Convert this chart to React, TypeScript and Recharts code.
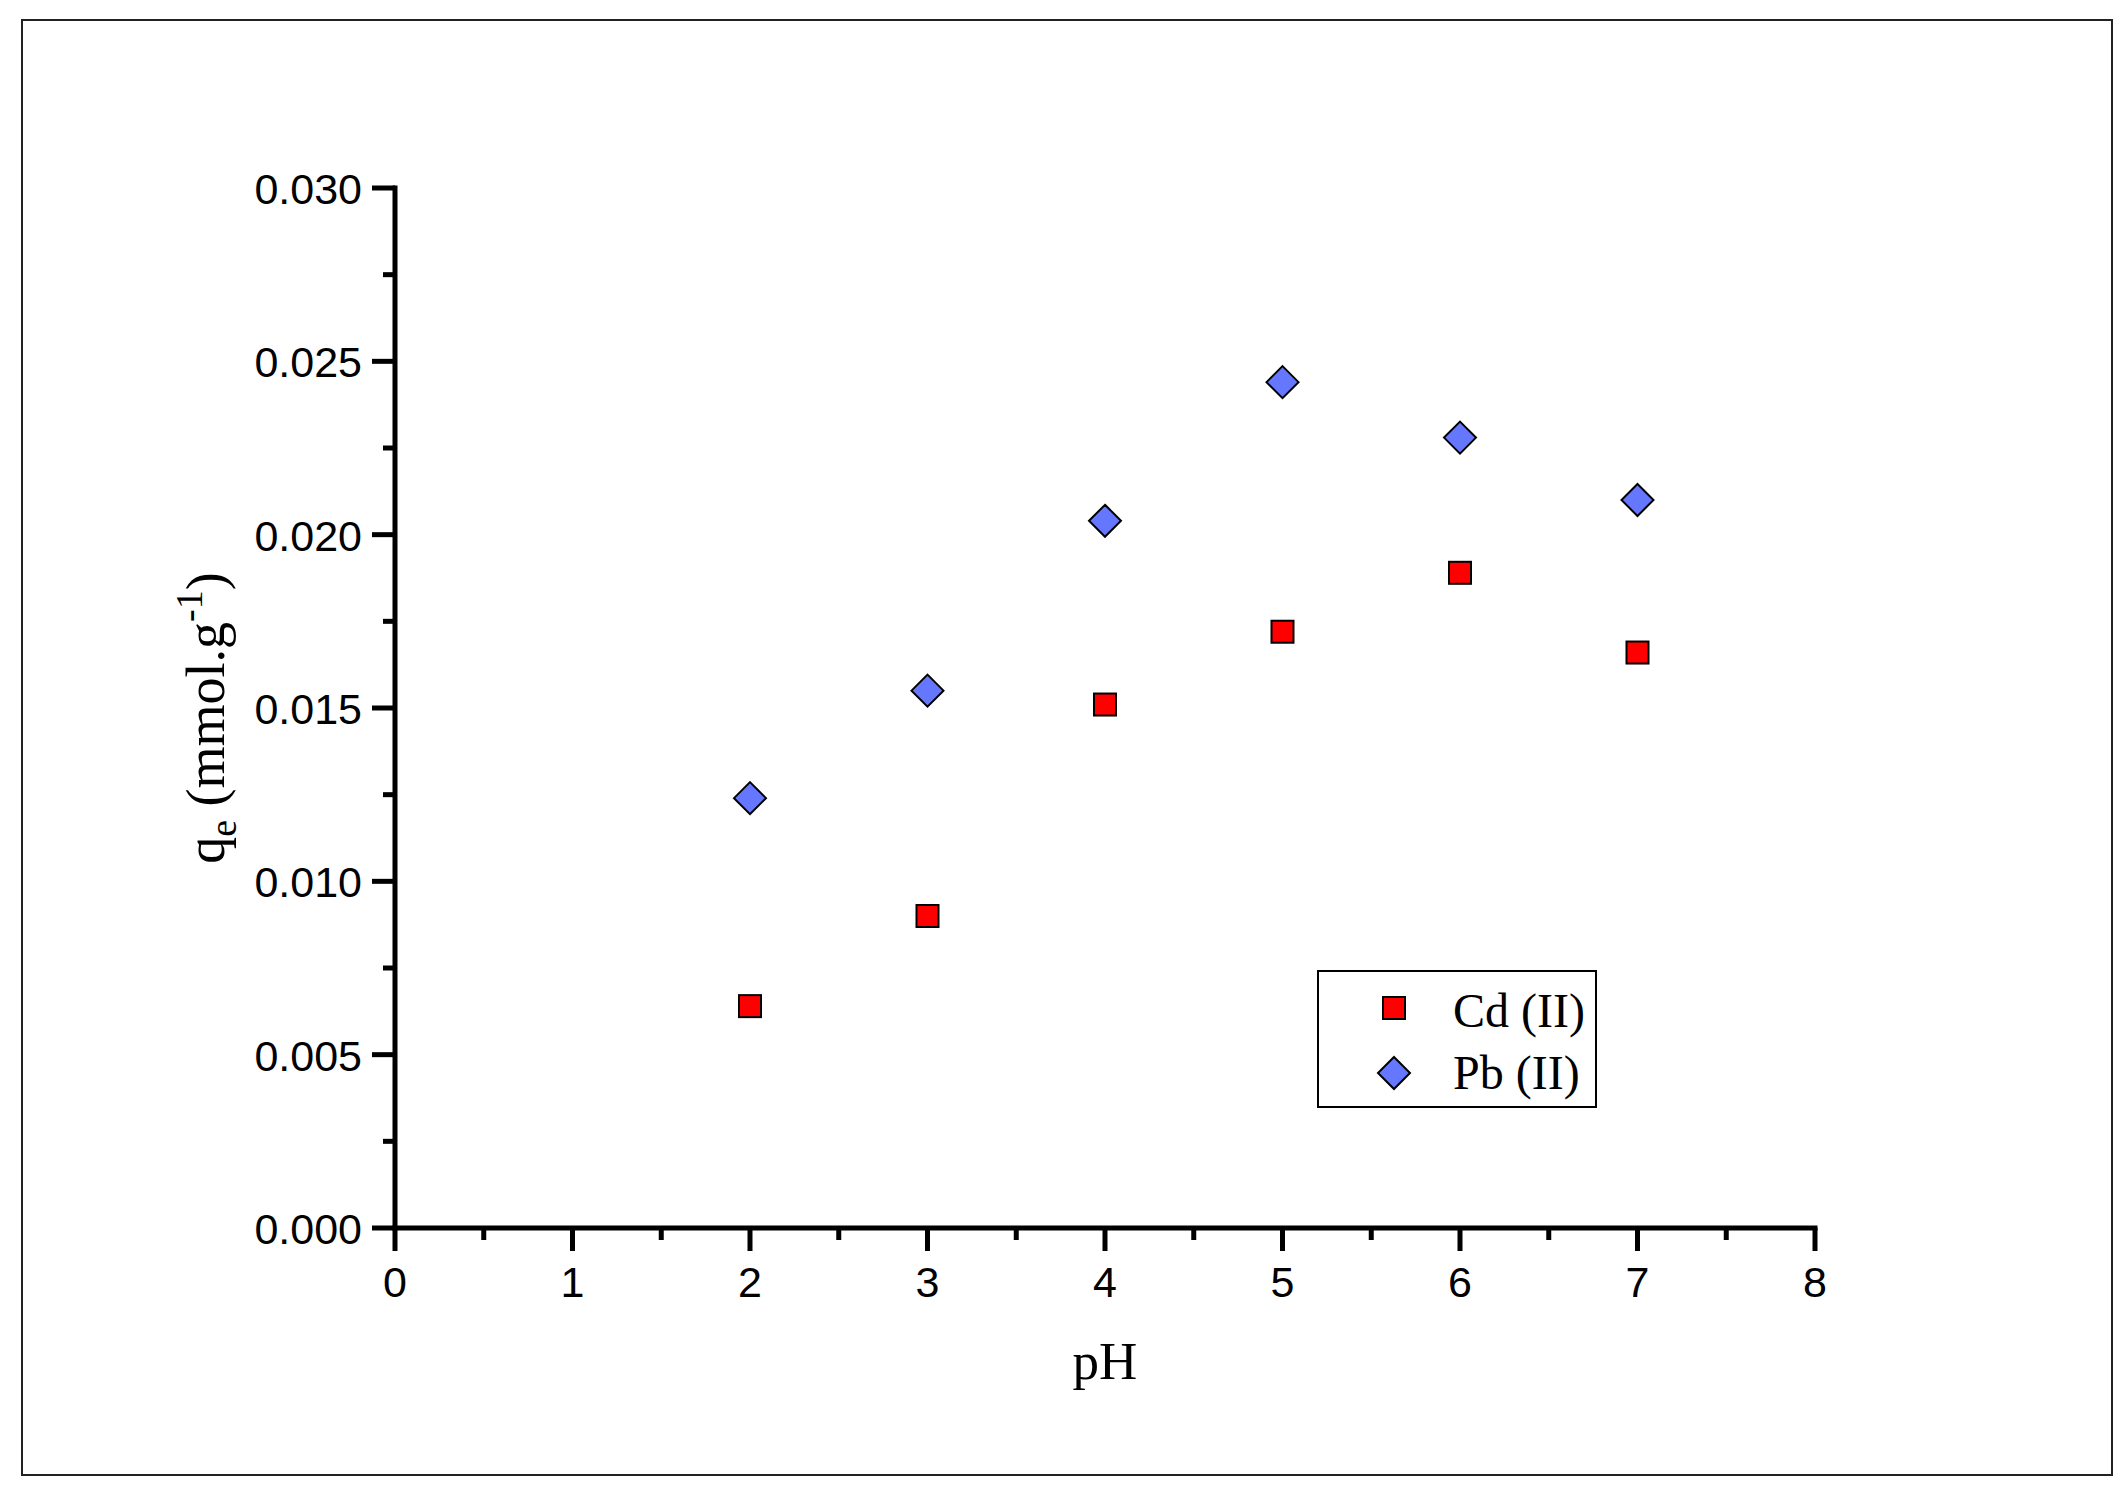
import React from 'react';
import { ScatterChart, Scatter, XAxis, YAxis, Legend } from 'recharts';

const phValues = [2, 3, 4, 5, 6, 7];
const cdValues = [0.0064, 0.009, 0.0151, 0.0172, 0.0189, 0.0166];
const pbValues = [0.0124, 0.0155, 0.0204, 0.0244, 0.0228, 0.021];
const seriesNames = ['Cd (II)', 'Pb (II)'];
const xTicks = [0, 0.5, 1, 1.5, 2, 2.5, 3, 3.5, 4, 4.5, 5, 5.5, 6, 6.5, 7, 7.5, 8];
const yTicks = [0, 0.0025, 0.005, 0.0075, 0.01, 0.0125, 0.015, 0.0175, 0.02, 0.0225, 0.025, 0.0275, 0.03];

const cdData = phValues.map((ph, i) => ({ ph, qe: cdValues[i] }));
const pbData = phValues.map((ph, i) => ({ ph, qe: pbValues[i] }));

const sansFont = '"Liberation Sans", Arial, sans-serif';
const serifFont = '"Liberation Serif", "Times New Roman", serif';
const axisStyle = { stroke: '#000', strokeWidth: 5, strokeLinecap: 'square' as const };

const XTick = (props: any) => {
  const { x, y, payload } = props;
  const v = payload.value;
  const major = Number.isInteger(v);
  return (
    <g>
      <line x1={x} x2={x} y1={y} y2={y + (major ? 23 : 12)} stroke="#000" strokeWidth={5} />
      {major && (
        <text x={x} y={y + 69} textAnchor="middle" fontFamily={sansFont} fontSize={43} fill="#000">
          {v}
        </text>
      )}
    </g>
  );
};

const YTick = (props: any) => {
  const { x, y, payload } = props;
  const v = payload.value;
  const major = Math.round(v * 10000) % 50 === 0;
  return (
    <g>
      <line x1={x - (major ? 23 : 12)} x2={x} y1={y} y2={y} stroke="#000" strokeWidth={5} />
      {major && (
        <text x={x - 33} y={y + 16} textAnchor="end" fontFamily={sansFont} fontSize={43} fill="#000">
          {v.toFixed(3)}
        </text>
      )}
    </g>
  );
};

const SquareDot = (props: any) => {
  const { cx, cy } = props;
  return <rect x={cx - 11} y={cy - 11} width={22} height={22} fill="#ff0000" stroke="#000" strokeWidth={2} />;
};

const DiamondDot = (props: any) => {
  const { cx, cy } = props;
  const r = 16;
  return (
    <polygon
      points={`${cx},${cy - r} ${cx + r},${cy} ${cx},${cy + r} ${cx - r},${cy}`}
      fill="#6677ff"
      stroke="#000"
      strokeWidth={2}
    />
  );
};

const XTitle = (props: any) => {
  const { viewBox } = props;
  return (
    <text x={viewBox.x + viewBox.width / 2} y={viewBox.y + 151} textAnchor="middle" fontFamily={serifFont} fontSize={53} fill="#000">
      pH
    </text>
  );
};

const YTitle = () => (
  <text transform="translate(224,718) rotate(-90)" textAnchor="middle" fontFamily={serifFont} fontSize={54} fill="#000">
    <tspan>q</tspan>
    <tspan fontSize={38} dy={12}>e</tspan>
    <tspan dy={-12}> (mmol.g</tspan>
    <tspan fontSize={38} dy={-22}>-1</tspan>
    <tspan dy={22}>)</tspan>
  </text>
);

const LegendBox = () => (
  <svg width={280} height={138}>
    <rect x={1} y={1} width={278} height={136} fill="#fff" stroke="#000" strokeWidth={2} />
    <SquareDot cx={77} cy={38} />
    <DiamondDot cx={77} cy={103} />
    <text x={136} y={57} fontFamily={serifFont} fontSize={48} fill="#000">{seriesNames[0]}</text>
    <text x={136} y={119} fontFamily={serifFont} fontSize={48} fill="#000">{seriesNames[1]}</text>
  </svg>
);

export default function App() {
  return (
    <div style={{ position: 'absolute', left: 0, top: 0, width: 2128, height: 1488, background: '#fff' }}>
      <div
        style={{
          position: 'absolute',
          left: 21,
          top: 19,
          width: 2092,
          height: 1457,
          border: '2px solid #222',
          boxSizing: 'border-box',
        }}
      />
      <ScatterChart width={2128} height={1488} margin={{ top: 188, right: 313, bottom: 0, left: 0 }}>
        <XAxis
          dataKey="ph"
          type="number"
          domain={[0, 8]}
          ticks={xTicks}
          interval={0}
          height={260}
          tickSize={0}
          tickMargin={0}
          tickLine={false}
          tick={<XTick />}
          axisLine={axisStyle}
          label={<XTitle />}
        />
        <YAxis
          dataKey="qe"
          type="number"
          domain={[0, 0.03]}
          ticks={yTicks}
          interval={0}
          width={395}
          tickSize={0}
          tickMargin={0}
          tickLine={false}
          tick={<YTick />}
          axisLine={axisStyle}
          label={<YTitle />}
        />
        <XAxis
          xAxisId="top"
          orientation="top"
          type="number"
          domain={[0, 8]}
          height={0}
          tick={false}
          tickLine={false}
          axisLine={axisStyle}
        />
        <YAxis
          yAxisId="right"
          orientation="right"
          type="number"
          domain={[0, 0.03]}
          width={0}
          tick={false}
          tickLine={false}
          axisLine={axisStyle}
        />
        <Legend
          layout="vertical"
          align="center"
          verticalAlign="middle"
          content={<LegendBox />}
          wrapperStyle={{ left: 1317, top: 970, width: 280, height: 138 }}
        />
        <Scatter name={seriesNames[0]} data={cdData} shape={<SquareDot />} isAnimationActive={false} />
        <Scatter name={seriesNames[1]} data={pbData} shape={<DiamondDot />} isAnimationActive={false} />
      </ScatterChart>
    </div>
  );
}
